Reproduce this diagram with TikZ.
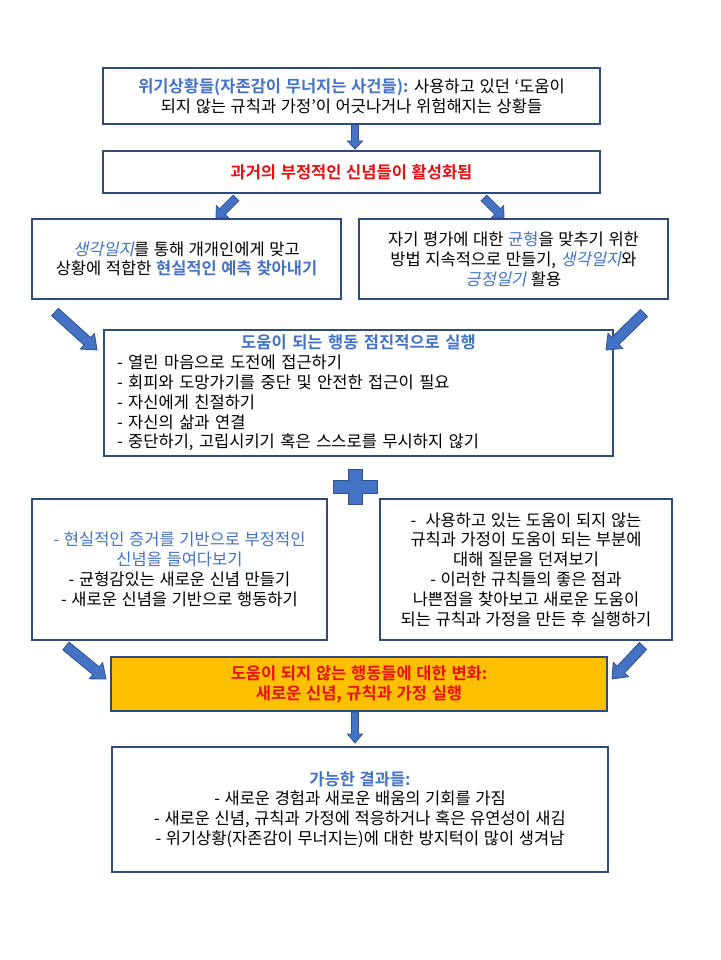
\documentclass[tikz,border=0pt]{standalone}
\usepackage{fontspec}
\setmainfont{Noto Sans CJK KR}[UprightFont=*, BoldFont=* Bold, ItalicFont=*, ItalicFeatures={FakeSlant=0.2}, BoldItalicFont=* Bold, BoldItalicFeatures={FakeSlant=0.2}, WordSpace=1.25]
\usetikzlibrary{calc}
\definecolor{boxc}{HTML}{2F4B7C}
\definecolor{tb}{HTML}{4472C4}
\definecolor{tr}{HTML}{E81010}
\definecolor{orng}{HTML}{FFC000}
\definecolor{arrf}{HTML}{4472C4}
\definecolor{arrd}{HTML}{2F528F}
\newcommand\kfs{\fontsize{16.5}{19.8}\selectfont}
\newcommand\blkarrow[5]{%
  \path ($(#2)!#5!(#1)$) coordinate (ba-c);
  \draw[blockarrow] ($(#1)!#3!90:(#2)$) -- ($(ba-c)!#3!90:(#2)$) -- ($(ba-c)!#4!90:(#2)$) -- (#2)
    -- ($(ba-c)!#4!-90:(#2)$) -- ($(ba-c)!#3!-90:(#2)$) -- ($(#1)!#3!-90:(#2)$) -- cycle;}
\tikzset{
  box/.style={draw=boxc, line width=2.4pt, fill=white, align=center, font=\kfs, inner sep=0pt},
  blockarrow/.style={fill=arrf, draw=arrd, line width=0.8pt, line join=miter}
}
\begin{document}
\begin{tikzpicture}[x=1pt,y=-1pt]
\useasboundingbox (0,0) rectangle (720,960);
\fill[white] (0,0) rectangle (720,960);

\node[box, minimum width=497pt, minimum height=56pt] (top) at (351.5,96)
  {{\color{tb}\bfseries 위기상황들(자존감이 무너지는 사건들):} 사용하고 있던 ‘도움이\\되지 않는 규칙과 가정’이 어긋나거나 위험해지는 상황들};

\node[box, minimum width=497pt, minimum height=42pt, text=tr, font=\kfs\bfseries] (act) at (351.5,172)
  {과거의 부정적인 신념들이 활성화됨};

\node[box, minimum width=309pt, minimum height=80pt] (left) at (186.5,259)
  {{\color{tb}\itshape 생각일지}를 통해 개개인에게 맞고\\상황에 적합한 {\color{tb}\bfseries 현실적인 예측 찾아내기}};

\node[box, minimum width=309pt, minimum height=80pt] (right) at (513.5,259)
  {자기 평가에 대한 {\color{tb}균형}을 맞추기 위한\\방법 지속적으로 만들기, {\color{tb}\itshape 생각일지}와\\{\color{tb}\itshape 긍정일기} 활용};

\node[box, minimum width=509pt, minimum height=126pt, text width=483pt, align=left, inner xsep=13pt] (mid) at (358.5,393)
  {\makebox[\linewidth][c]{\color{tb}\bfseries 도움이 되는 행동 점진적으로 실행}\\- 열린 마음으로 도전에 접근하기\\- 회피와 도망가기를 중단 및 안전한 접근이 필요\\- 자신에게 친절하기\\- 자신의 삶과 연결\\- 중단하기, 고립시키기 혹은 스스로를 무시하지 않기};

\draw[fill=arrf, draw=arrd, line width=0.8pt] (333,480) -- (348,480) -- (348,469) -- (362,469) -- (362,480) -- (377,480)
  -- (377,493) -- (362,493) -- (362,504) -- (348,504) -- (348,493) -- (333,493) -- cycle;

\node[box, minimum width=295pt, minimum height=141pt] (evid) at (179.5,569.5)
  {{\color{tb}- 현실적인 증거를 기반으로 부정적인}\\{\color{tb}신념을 들여다보기}\\- 균형감있는 새로운 신념 만들기\\- 새로운 신념을 기반으로 행동하기};

\node[box, minimum width=292pt, minimum height=141pt] (rules) at (526,569.5)
  {-~ 사용하고 있는 도움이 되지 않는\\규칙과 가정이 도움이 되는 부분에\\대해 질문을 던져보기\\- 이러한 규칙들의 좋은 점과\\나쁜점을 찾아보고 새로운 도움이\\되는 규칙과 가정을 만든 후 실행하기};

\node[box, fill=orng, minimum width=496pt, minimum height=54pt, text=tr, font=\kfs\bfseries] (change) at (359,684)
  {도움이 되지 않는 행동들에 대한 변화:\\새로운 신념, 규칙과 가정 실행};

\node[box, minimum width=496pt, minimum height=125pt] (result) at (360,809.5)
  {{\color{tb}\bfseries 가능한 결과들:}\\- 새로운 경험과 새로운 배움의 기회를 가짐\\- 새로운 신념, 규칙과 가정에 적응하거나 혹은 유연성이 새김\\- 위기상황(자존감이 무너지는)에 대한 방지턱이 많이 생겨남};

% arrow end points
\coordinate (a1s) at (355,125); \coordinate (a1e) at (355,149);
\coordinate (a2s) at (236,198); \coordinate (a2e) at (216,218);
\coordinate (a3s) at (484,198); \coordinate (a3e) at (504,218);
\coordinate (a4s) at (55,312);  \coordinate (a4e) at (97,350);
\coordinate (a5s) at (644,313); \coordinate (a5e) at (606,350);
\coordinate (a6s) at (66,646);  \coordinate (a6e) at (106,679);
\coordinate (a7s) at (643,646); \coordinate (a7e) at (612,679);
\coordinate (a8s) at (355,712); \coordinate (a8e) at (355,743);

\blkarrow{a1s}{a1e}{3.5pt}{7.5pt}{8pt}
\blkarrow{a2s}{a2e}{4pt}{8.5pt}{9pt}
\blkarrow{a3s}{a3e}{4pt}{8.5pt}{9pt}
\blkarrow{a4s}{a4e}{5pt}{10.5pt}{13pt}
\blkarrow{a5s}{a5e}{5pt}{10.5pt}{13pt}
\blkarrow{a6s}{a6e}{5pt}{10.5pt}{13pt}
\blkarrow{a7s}{a7e}{5pt}{10.5pt}{13pt}
\blkarrow{a8s}{a8e}{3.5pt}{7.5pt}{9pt}
\end{tikzpicture}
\end{document}
